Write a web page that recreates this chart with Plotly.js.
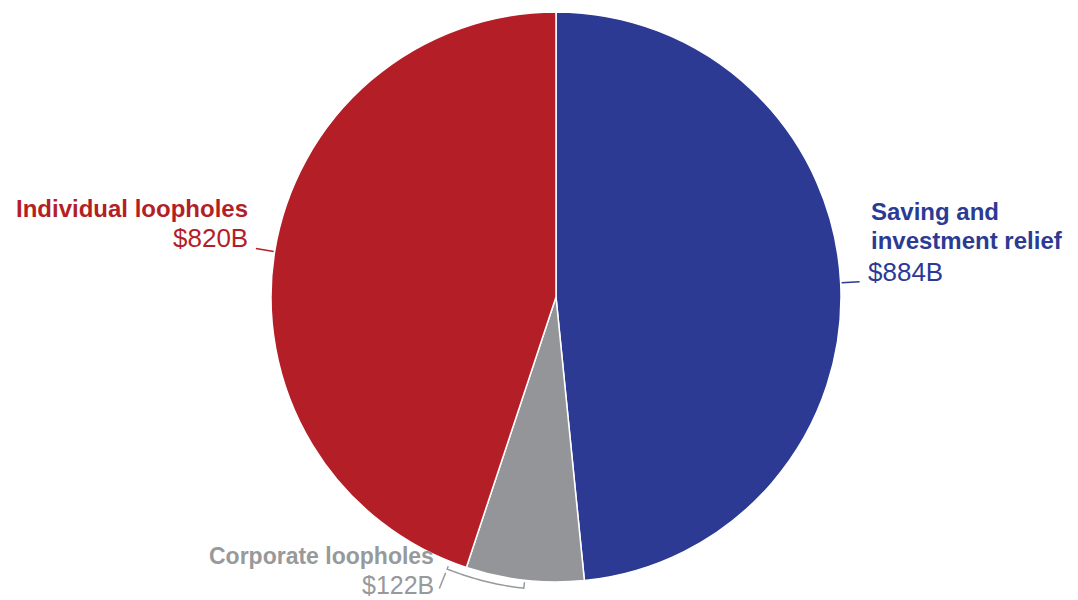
<!DOCTYPE html>
<html>
<head>
<meta charset="utf-8">
<script src="https://cdn.plot.ly/plotly-3.0.1.min.js"></script>
<style>html,body{margin:0;padding:0;background:#fff;}#chart{width:1078px;height:600px;}</style>
</head>
<body>
<div id="chart"></div>
<script>
// ---- data ----
const categories = ['Saving and investment relief', 'Corporate loopholes', 'Individual loopholes'];
const labelLines = [['Saving and', 'investment relief'], ['Corporate loopholes'], ['Individual loopholes']];
const values = [884, 122, 820];
const valueLabels = values.map(v => '$' + v + 'B');

// ---- style ----
const colors = ['#2C3A94', '#939598', '#B41F27'];
const textColors = ['#2C3A94', '#97999B', '#B41F27'];
const W = 1078, H = 600;
const cx = 556, cy = 297, R = 285;
const FONT = '"Liberation Sans", Arial, sans-serif';

function px(x) { return x / W; }
function py(y) { return 1 - y / H; }
function polar(deg, r) {
  const a = deg * Math.PI / 180;
  return [cx + r * Math.sin(a), cy - r * Math.cos(a)];
}

const total = values.reduce((a, b) => a + b, 0);
let acc = 0;
const mids = values.map(v => { const m = (acc + v / 2) / total * 360; acc += v; return m; });

const shapes = [];
function seg(p1, p2, color) {
  shapes.push({type: 'line', xref: 'paper', yref: 'paper',
    x0: px(p1[0]), y0: py(p1[1]), x1: px(p2[0]), y1: py(p2[1]),
    line: {color: color, width: 1.5}});
}
// radial leader lines for the two big slices
[0, 2].forEach(i => seg(polar(mids[i], R + 1), polar(mids[i], R + 19), textColors[i]));

// bracket for the corporate slice
(function () {
  const a0 = mids[1], a1 = mids[1] + 15.5, rb = 293;
  const pts = [polar(a0, rb - 6)];
  for (let k = 0; k <= 24; k++) pts.push(polar(a0 + (a1 - a0) * k / 24, rb));
  pts.push(polar(a1, rb - 3));
  let d = 'M' + pts.map(p => px(p[0]).toFixed(5) + ',' + py(p[1]).toFixed(5)).join(' L');
  shapes.push({type: 'path', xref: 'paper', yref: 'paper', path: d,
    line: {color: textColors[1], width: 1.5}});
  seg(polar(a1, rb + 4), polar(a1, rb + 21), textColors[1]);
})();

// label placement (pixel anchors)
const labelPos = [
  {x: 870, y: [212, 241], vy: 272, xanchor: 'left', fs: [24, 26]},
  {x: 435, y: [556], vy: 585, xanchor: 'right', fs: [23, 25]},
  {x: 249, y: [208], vy: 238, xanchor: 'right', fs: [24, 26]}
];

const annotations = [];
categories.forEach((c, i) => {
  const lp = labelPos[i];
  labelLines[i].forEach((t, j) => {
    annotations.push({text: '<b>' + t + '</b>', xref: 'paper', yref: 'paper',
      x: px(lp.x), y: py(lp.y[j]), xanchor: lp.xanchor, yanchor: 'middle', borderpad: 0,
      showarrow: false, font: {family: FONT, size: lp.fs[0], color: textColors[i]}});
  });
  annotations.push({text: valueLabels[i], xref: 'paper', yref: 'paper',
    x: px(lp.x + (lp.xanchor === 'left' ? -3 : 0)), y: py(lp.vy), xanchor: lp.xanchor, yanchor: 'middle', borderpad: 0,
    showarrow: false, font: {family: FONT, size: lp.fs[1], color: textColors[i]}});
});

const trace = {
  type: 'pie',
  labels: categories,
  values: values,
  sort: false,
  direction: 'clockwise',
  rotation: 0,
  textinfo: 'none',
  hoverinfo: 'label+value',
  marker: {colors: colors, line: {color: '#ffffff', width: 1.5}},
  domain: {x: [px(cx - R), px(cx + R)], y: [py(cy + R), py(cy - R)]}
};

const layout = {
  width: W, height: H,
  margin: {l: 0, r: 0, t: 0, b: 0},
  paper_bgcolor: '#ffffff',
  showlegend: false,
  shapes: shapes,
  annotations: annotations
};

Plotly.newPlot('chart', [trace], layout, {displayModeBar: false, staticPlot: true});
</script>
</body>
</html>
